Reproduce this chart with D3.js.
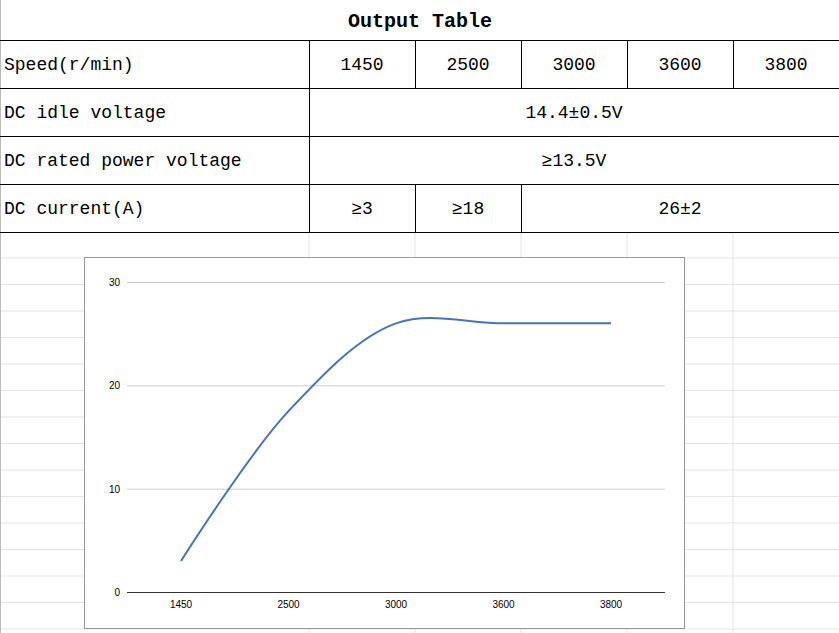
<!DOCTYPE html>
<html><head><meta charset="utf-8">
<script src="https://cdn.jsdelivr.net/npm/d3@7"></script>
<style>body{margin:0;background:#fff}</style>
</head><body>
<svg id="chart" width="839" height="633"></svg>
<script>
// table content
const speeds = ['1450', '2500', '3000', '3600', '3800'];
const rowLabels = ['Speed(r/min)', 'DC idle voltage', 'DC rated power voltage', 'DC current(A)'];
const idleVoltage = '14.4±0.5V';
const ratedVoltage = '≥13.5V';
const currentCells = ['≥3', '≥18', '26±2'];
// chart series
const current = [3, 17.5, 26, 26, 26];
const yTicks = [0, 10, 20, 30];

const svg = d3.select('#chart');
const colX = [0, 309, 415, 521, 627, 733, 839];
const rowY = [40, 88, 136, 184, 232];
const font = "'Liberation Mono', 'DejaVu Sans Mono', monospace";

// background spreadsheet grid
const grid = svg.append('g').attr('stroke', '#e3e3e3');
d3.range(232 + 26, 633, 26.5).forEach(y => grid.append('line').attr('x1', 0).attr('x2', 839).attr('y1', y).attr('y2', y));
colX.slice(1, 6).forEach(x => grid.append('line').attr('x1', x).attr('x2', x).attr('y1', 232).attr('y2', 633));
grid.append('line').attr('x1', 0.5).attr('x2', 0.5).attr('y1', 0).attr('y2', 633).attr('stroke', '#bbb');

// title
svg.append('text').attr('x', 420).attr('y', 27).attr('text-anchor', 'middle')
    .attr('font-family', font).attr('font-weight', 'bold').attr('font-size', 20).text('Output Table');

// table lines
const tl = svg.append('g').attr('stroke', '#000').attr('stroke-width', 1);
rowY.forEach(y => tl.append('line').attr('x1', 0).attr('x2', 839).attr('y1', y + .5).attr('y2', y + .5));
tl.append('line').attr('x1', 309.5).attr('x2', 309.5).attr('y1', 40).attr('y2', 232);
colX.slice(2, 6).forEach(x => tl.append('line').attr('x1', x + .5).attr('x2', x + .5).attr('y1', 40).attr('y2', 88));
colX.slice(2, 4).forEach(x => tl.append('line').attr('x1', x + .5).attr('x2', x + .5).attr('y1', 184).attr('y2', 232));

const txt = (x, y, s, anchor) => svg.append('text').attr('x', x).attr('y', y)
    .attr('text-anchor', anchor || 'middle').attr('font-family', font).attr('font-size', 18).text(s);
rowLabels.forEach((s, i) => txt(4, rowY[i] + 30, s, 'start'));
speeds.forEach((s, i) => txt((colX[i + 1] + colX[i + 2]) / 2, 70, s));
txt((309 + 839) / 2, 118, idleVoltage);
txt((309 + 839) / 2, 166, ratedVoltage);
txt(362, 214, currentCells[0]);
txt(468, 214, currentCells[1]);
txt(680, 214, currentCells[2]);

// chart box
svg.append('rect').attr('x', 84.5).attr('y', 257.5).attr('width', 600).attr('height', 371)
    .attr('fill', '#fff').attr('stroke', '#999');

const x = d3.scalePoint().domain(speeds).range([181, 611]);
const y = d3.scaleLinear().domain([0, 30]).range([592, 282]);

const g = svg.append('g');
yTicks.forEach(t => {
    g.append('line').attr('x1', 127).attr('x2', 665).attr('y1', y(t) + .5).attr('y2', y(t) + .5)
        .attr('stroke', t === 0 ? '#333' : '#ccc');
    g.append('text').attr('x', 120).attr('y', y(t) + 4).attr('text-anchor', 'end')
        .attr('font-family', 'Arial, Liberation Sans').attr('font-size', 10).text(t);
});
speeds.forEach(s => g.append('text').attr('x', x(s)).attr('y', 608).attr('text-anchor', 'middle')
    .attr('font-family', 'Arial, Liberation Sans').attr('font-size', 10).text(s));

const line = d3.line().x((d, i) => x(speeds[i])).y(d => y(d)).curve(d3.curveCatmullRom.alpha(0.5));
g.append('path').datum(current).attr('d', line).attr('fill', 'none')
    .attr('stroke', '#4472c4').attr('stroke-width', 2);
</script>
</body></html>
